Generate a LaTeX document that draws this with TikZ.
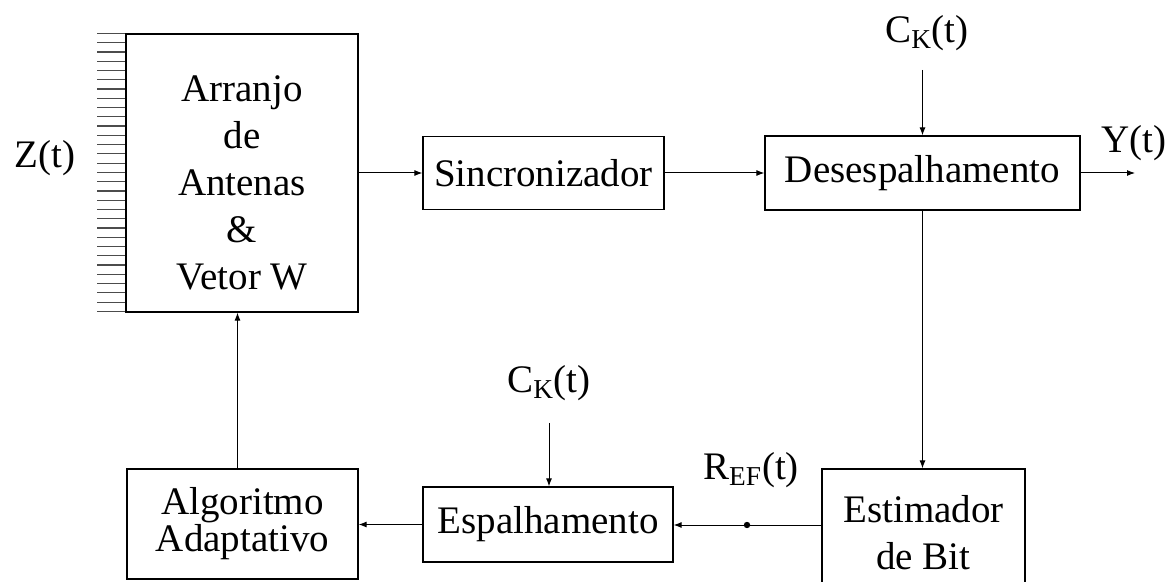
\documentclass[tikz,border=0pt]{standalone}
\usepackage{fontspec}
\setmainfont{Liberation Serif}
\usetikzlibrary{arrows.meta}

\begin{document}
\begin{tikzpicture}[x=0.5pt,y=-0.5pt,
	bloco/.style={draw,line width=0.6pt,inner sep=0pt,align=center,font=\fontsize{19.5}{23.5}\selectfont},
	rotulo/.style={inner sep=0pt,align=center,font=\fontsize{19.5}{23.5}\selectfont},
	seta/.style={line width=0.5pt,-{Latex[length=4pt,width=3pt]}},
	hachura/.style={line width=0.6pt,gray!60!black}]
	\useasboundingbox (0,0) rectangle (1172,582);
	% blocos
	\node[bloco,minimum width=116pt,minimum height=139pt] (arr) at (242,173) {};
	\node[rotulo] (arrtxt) at (242,183) {Arranjo\\de\\Antenas\\\&\\Vetor W};
	\node[bloco,minimum width=120.5pt,minimum height=36.5pt] (sinc) at (543.5,173) {Sincronizador};
	\node[bloco,minimum width=157.5pt,minimum height=37pt] (desp) at (922.5,173) {Desespalhamento};
	\node[bloco,minimum width=101.5pt,minimum height=64pt] (est) at (923.5,533) {Estimador\\de Bit};
	\node[bloco,minimum width=115.5pt,minimum height=55pt,font=\fontsize{19.5}{18.5}\selectfont] (alg) at (242.5,524) {Algoritmo\\Adaptativo};
	\node[bloco,minimum width=125pt,minimum height=37.5pt] (esp) at (548,524.5) {Espalhamento};
	% antenas
	\foreach \i in {0,...,30}
		\draw[hachura] (arr.north west) ++(-28,9.267*\i) -- ++(28,0);
	% rotulos
	\node[rotulo] (z) at (45,158) {Z(t)};
	\node[rotulo] (ck1) at (927,33) {C\textsubscript{K}(t)};
	\node[rotulo] (y) at (1134,143) {Y(t)};
	\node[rotulo] (ck2) at (549,383) {C\textsubscript{K}(t)};
	\node[rotulo] (ref) at (751,470) {R\textsubscript{EF}(t)};
	\coordinate (ck1in) at (922.5,70);
	\coordinate (ck2in) at (549,423);
	\coordinate (yout) at (1135,173);
	\coordinate (pto) at (747,525);
	% ligacoes
	\draw[seta] (arr.east) -- (sinc.west);
	\draw[seta] (sinc.east) -- (desp.west);
	\draw[seta] (ck1in) -- (desp.north);
	\draw[seta] (desp.east) -- (yout);
	\draw[seta] (desp.south) -- (desp.south |- est.north);
	\draw[line width=0.5pt] (est.west |- pto) -- (pto);
	\fill (pto) circle (1.6pt);
	\draw[seta] (pto) -- (esp.east |- pto);
	\draw[seta] (ck2in) -- (ck2in |- esp.north);
	\draw[seta] (esp.west) -- (alg.east |- esp.west);
	\draw[seta] ([xshift=-2.5pt]alg.north) -- ([xshift=-2.5pt]alg.north |- arr.south);
\end{tikzpicture}
\end{document}
